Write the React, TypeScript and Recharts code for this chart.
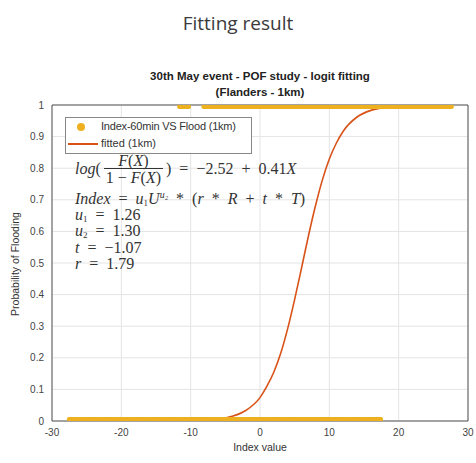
import React from 'react';
import {
  ComposedChart,
  Scatter,
  Line,
  XAxis,
  YAxis,
  CartesianGrid,
  ReferenceLine,
} from 'recharts';

// observations: index value of cells that did not flood (y = 0) and did flood (y = 1)
const noFloodX = [
  -27.2, -26.5, -25.6, -24.8, -24.1, -23.3, -22.4, -21.7, -20.9, -20.1, -19.2, -18.6,
  -17.7, -16.9, -16.2, -15.3, -14.6, -13.8, -12.9, -12.2, -11.4, -10.6, -9.8, -9.1,
  -8.3, -7.5, -6.8, -5.9, -5.2, -4.4, -3.6, -2.9, -2.1, -1.3, -0.6, 0.2, 1.0, 1.7,
  2.5, 3.3, 4.1, 4.8, 5.6, 6.4, 7.2, 7.9, 8.7, 9.5, 10.3, 11.0, 11.8, 12.6, 13.4,
  14.1, 14.9, 15.7, 16.4, 17.1,
];
const floodX = [
  -11.3, -10.6, -7.8, -7.0, -6.2, -5.4, -4.6, -3.8, -3.0, -2.2, -1.4, -0.6, 0.2, 1.0,
  1.8, 2.6, 3.4, 4.2, 5.0, 5.8, 6.6, 7.4, 8.2, 9.0, 9.8, 10.6, 11.4, 12.2, 13.0, 13.8,
  14.6, 15.4, 16.2, 17.0, 17.8, 18.6, 19.4, 20.2, 21.0, 21.8, 22.6, 23.4, 24.2, 25.0,
  25.8, 26.6, 27.3,
];

// fitted logit curve
const fitX = [-27, -20, -15, -10, -8, -6, -4, -2, 0, 1, 2, 3, 4, 5, 6, 7, 8, 9, 10, 11, 12, 14, 16, 18, 20, 23, 27];
const fitY = [0, 0.0001, 0.0006, 0.0013, 0.003, 0.007, 0.015, 0.034, 0.074, 0.11, 0.155, 0.215, 0.293, 0.385, 0.485, 0.587, 0.681, 0.763, 0.829, 0.879, 0.917, 0.962, 0.983, 0.992, 0.997, 0.999, 1];

const xTicks = [-30, -20, -10, 0, 10, 20, 30];
const yTicks = [0, 0.1, 0.2, 0.3, 0.4, 0.5, 0.6, 0.7, 0.8, 0.9, 1];

const MARKER = '#EDB120';
const FIT = '#D95319';

const noFloodData = noFloodX.map((x) => ({ x, y: 0 }));
const floodData = floodX.map((x) => ({ x, y: 1 }));
const fitData = fitX.map((x, i) => ({ x, y: fitY[i] }));

const sans = 'Liberation Sans, Arial, sans-serif';
const tickStyle = { fontSize: 10, fill: '#444', fontFamily: sans };
const eqFont = "'Liberation Serif', 'Times New Roman', serif";

const renderMarker = (props: any) => (
  <rect x={props.cx - 4.5} y={props.cy - 4} width={9} height={8} rx={2} fill={MARKER} />
);

const sub = (t: string) => (
  <span style={{ fontSize: 9, lineHeight: '9px', position: 'relative', top: 2 }}>{t}</span>
);
const sup = (t: React.ReactNode) => (
  <span style={{ fontSize: 10, lineHeight: '10px', position: 'relative', top: -6 }}>{t}</span>
);
const op = (t: string) => <span>{'\u2002' + t + '\u2002'}</span>;

const eqLine = (top: number, children: React.ReactNode) => (
  <div style={{ position: 'absolute', left: 75, top, fontFamily: eqFont, fontSize: 16, lineHeight: '16px', color: '#333', whiteSpace: 'nowrap' }}>
    {children}
  </div>
);

export default function App() {
  return (
    <div style={{ position: 'absolute', left: 0, top: 0, width: 476, height: 463, background: '#fff', overflow: 'hidden' }}>
      <div style={{ position: 'absolute', left: 0, width: 476, top: 10, textAlign: 'center', fontFamily: "'Open Sans', sans-serif", fontSize: 19, color: '#3a3a3a' }}>
        Fitting result
      </div>
      <div style={{ position: 'absolute', left: 60, width: 400, top: 68, textAlign: 'center', fontFamily: sans, fontWeight: 'bold', fontSize: 11.5, lineHeight: '16px', color: '#222' }}>
        30th May event - POF study - logit fitting
        <br />
        (Flanders - 1km)
      </div>

      <ComposedChart width={476} height={463} margin={{ top: 105, right: 8, bottom: 22, left: 8 }} style={{ position: 'absolute', left: 0, top: 0 }}>
        <CartesianGrid stroke="#e4e4e4" />
        <XAxis
          type="number"
          dataKey="x"
          domain={[-30, 30]}
          ticks={xTicks}
          tick={tickStyle}
          tickLine={false}
          axisLine={{ stroke: '#555' }}
          height={20}
          allowDataOverflow
        />
        <YAxis
          type="number"
          dataKey="y"
          domain={[0, 1]}
          ticks={yTicks}
          tick={tickStyle}
          tickLine={false}
          axisLine={{ stroke: '#555' }}
          width={44}
          allowDataOverflow
        />
        <ReferenceLine y={1} stroke="#555" />
        <ReferenceLine x={30} stroke="#555" />
        <Scatter data={noFloodData} fill={MARKER} shape={renderMarker} isAnimationActive={false} />
        <Scatter data={floodData} fill={MARKER} shape={renderMarker} isAnimationActive={false} />
        <Line data={fitData} dataKey="y" type="monotone" stroke={FIT} strokeWidth={1.6} dot={false} isAnimationActive={false} />
      </ComposedChart>

      {/* legend */}
      <div style={{ position: 'absolute', left: 65, top: 117, width: 185, height: 35, border: '1px solid #888', background: '#fff', fontFamily: sans, fontSize: 11, color: '#333' }}>
        <div style={{ position: 'absolute', left: 11, top: 5, width: 8, height: 8, borderRadius: 4, background: MARKER }} />
        <div style={{ position: 'absolute', left: 35, top: 2, lineHeight: '13px', letterSpacing: -0.2 }}>Index-60min VS Flood (1km)</div>
        <div style={{ position: 'absolute', left: 2, top: 25, width: 30, height: 2, background: FIT }} />
        <div style={{ position: 'absolute', left: 35, top: 19, lineHeight: '13px' }}>fitted (1km)</div>
      </div>

      {/* equations */}
      <div style={{ position: 'absolute', left: 75, top: 153, display: 'flex', alignItems: 'center', fontFamily: eqFont, fontSize: 16, color: '#333', whiteSpace: 'nowrap' }}>
        <span><i>log</i>(</span>
        <span style={{ display: 'inline-flex', flexDirection: 'column', alignItems: 'center', margin: '0 3px', lineHeight: '15px' }}>
          <span style={{ padding: '0 2px' }}><i>F</i>(<i>X</i>)</span>
          <span style={{ borderTop: '1px solid #333', padding: '1px 2px 0' }}>1 − <i>F</i>(<i>X</i>)</span>
        </span>
        <span>){op('=')}−2.52{op('+')}0.41<i>X</i></span>
      </div>
      {eqLine(191, <span><i>Index</i>{op('=')}<i>u</i>{sub('1')}<i>U</i>{sup(<i>u₂</i>)}{op('*')}(<i>r</i>{op('*')}<i>R</i>{op('+')}<i>t</i>{op('*')}<i>T</i>)</span>)}
      {eqLine(207, <span><i>u</i>{sub('1')}{op('=')}1.26</span>)}
      {eqLine(223, <span><i>u</i>{sub('2')}{op('=')}1.30</span>)}
      {eqLine(240, <span><i>t</i>{op('=')}−1.07</span>)}
      {eqLine(256, <span><i>r</i>{op('=')}1.79</span>)}

      {/* axis titles */}
      <div style={{ position: 'absolute', left: 60, width: 400, top: 441, textAlign: 'center', fontFamily: sans, fontSize: 10.5, color: '#333' }}>
        Index value
      </div>
      <div style={{ position: 'absolute', left: 15, top: 264, transform: 'translate(-50%, -50%) rotate(-90deg)', whiteSpace: 'nowrap', fontFamily: sans, fontSize: 10.5, color: '#333' }}>
        Probability of Flooding
      </div>
    </div>
  );
}
